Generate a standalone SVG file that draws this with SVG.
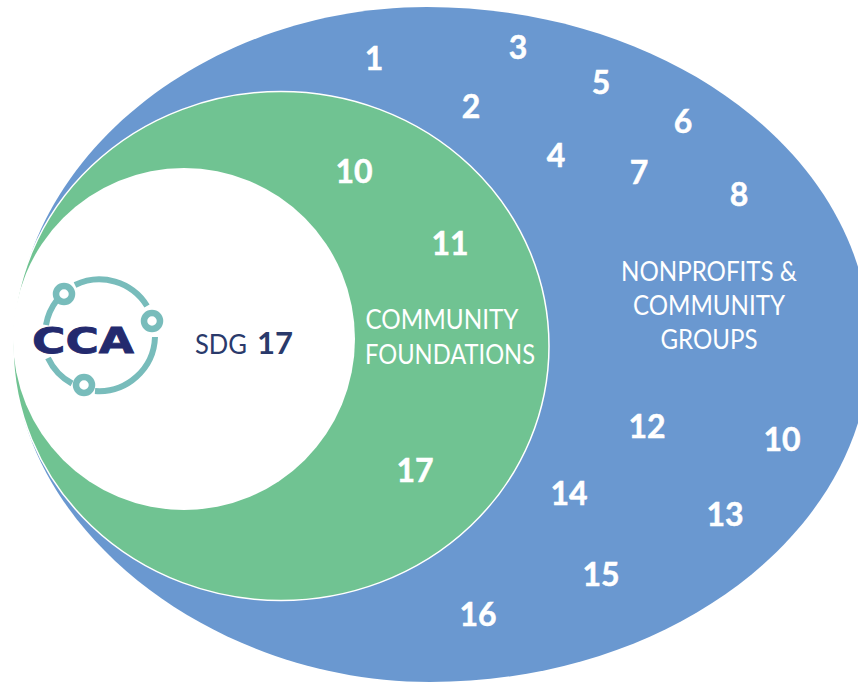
<svg xmlns="http://www.w3.org/2000/svg" width="858" height="682" viewBox="0 0 858 682">
<style>
text{font-family:Lato,"Open Sans",sans-serif}
.n{fill:#fff;stroke:#fff;stroke-width:.5;font-weight:700;font-size:32px;text-anchor:middle}
.l{fill:#fff;font-size:26px;text-anchor:middle}
.r{fill:none;stroke:#78bcbb;stroke-width:6}
</style>
<rect width="858" height="682" fill="#fff"/>
<g id="outer"><path d="M14 350C14 160 205 7 427 7C671 7 870 159 870 345C870 530 672 682 430 682C210 682 14 526 14 350Z" fill="#6a98d0"/></g>
<g id="community"><ellipse cx="281" cy="346" rx="268" ry="254.500" fill="#70c392" stroke="#fff" stroke-width="1.5"/></g>
<g id="inner"><ellipse cx="184" cy="339" rx="171" ry="171" fill="#fff"/></g>
<g id="logo">
<path class="r" d="M75 285A56 56 0 0 1 147 306M155 337A56 56 0 0 1 95 391M72 383.500A56 56 0 0 1 48 358M46 325A56 56 0 0 1 57 300"/>
<g fill="#fff" stroke="#78bcbb" stroke-width="6.500"><circle cx="64" cy="294" r="8"/><circle cx="152" cy="321" r="8"/><circle cx="84" cy="385" r="8"/></g>
<text x="83" y="353" font-size="36" font-weight="700" fill="#232a6e" stroke="#232a6e" stroke-width=".8" text-anchor="middle" style="font-family:'DejaVu Sans',sans-serif" textLength="102" lengthAdjust="spacingAndGlyphs">CCA</text>
</g>
<g id="sdg" fill="#2a3a6b"><text x="195" y="354" font-size="26" textLength="52" lengthAdjust="spacingAndGlyphs">SDG</text><text x="257" y="354" font-size="31" font-weight="700" textLength="36" lengthAdjust="spacingAndGlyphs">17</text></g>
<g id="labels">
<text class="n" x="374" y="70">1</text><text class="n" x="471" y="118">2</text><text class="n" x="518" y="59">3</text><text class="n" x="556" y="167">4</text><text class="n" x="601" y="94">5</text><text class="n" x="683" y="133">6</text><text class="n" x="639" y="184">7</text><text class="n" x="739" y="206">8</text>
<text class="n" x="354" y="183">10</text><text class="n" x="450" y="255">11</text><text class="n" x="415" y="482">17</text><text class="n" x="647" y="438">12</text><text class="n" x="782" y="451">10</text><text class="n" x="725" y="526">13</text><text class="n" x="569" y="505">14</text><text class="n" x="601" y="586">15</text><text class="n" x="478" y="626">16</text>
<text class="l" x="442" y="329" textLength="153" lengthAdjust="spacingAndGlyphs">COMMUNITY</text><text class="l" x="450" y="364" textLength="170" lengthAdjust="spacingAndGlyphs">FOUNDATIONS</text>
<text class="l" x="709" y="281" textLength="176" lengthAdjust="spacingAndGlyphs">NONPROFITS &amp;</text><text class="l" x="709" y="315" textLength="152" lengthAdjust="spacingAndGlyphs">COMMUNITY</text><text class="l" x="709" y="349" textLength="97" lengthAdjust="spacingAndGlyphs">GROUPS</text>
</g>
</svg>
